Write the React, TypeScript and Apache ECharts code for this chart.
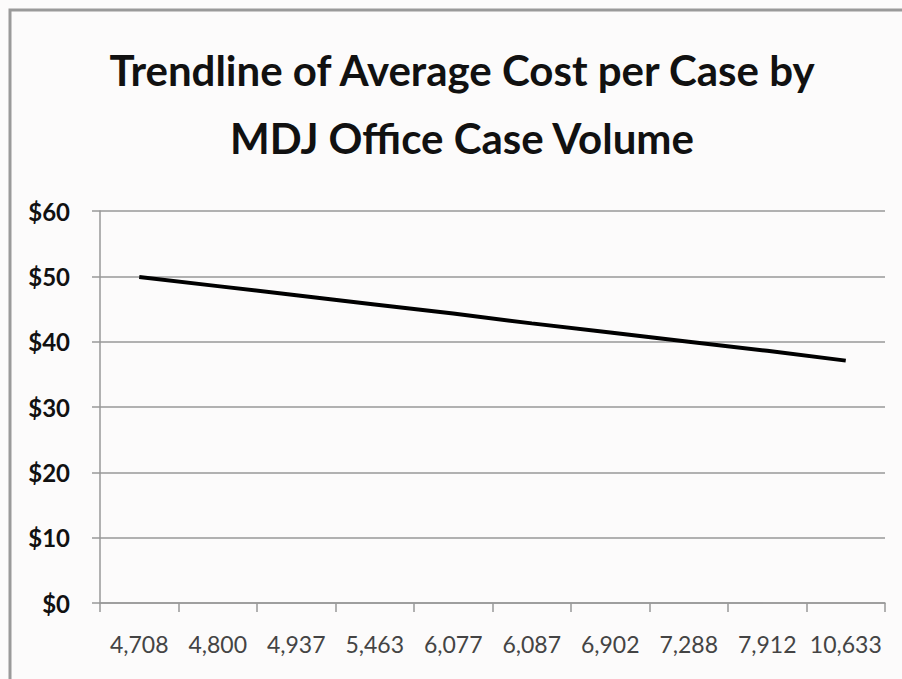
import React, { useEffect, useRef } from "react";
import * as echarts from "echarts";

const titleText = "Trendline of Average Cost per Case by\nMDJ Office Case Volume";
const caseVolumes = ["4,708", "4,800", "4,937", "5,463", "6,077", "6,087", "6,902", "7,288", "7,912", "10,633"];
const avgCost = [49.9, 48.5, 47.1, 45.7, 44.3, 42.8, 41.4, 40.0, 38.6, 37.1];
const yMin = 0;
const yMax = 60;
const yStep = 10;

export default function App() {
  const ref = useRef<HTMLDivElement>(null);
  useEffect(() => {
    if (!ref.current) return;
    const chart = echarts.init(ref.current, null, { renderer: "svg" });
    chart.setOption({
      animation: false,
      backgroundColor: "#fcfbfb",
      title: {
        text: titleText,
        left: 462,
        top: 36,
        padding: 0,
        textAlign: "center",
        textStyle: {
          fontFamily: "Lato",
          fontWeight: "bold",
          fontSize: 42,
          lineHeight: 68,
          color: "#111",
        },
      },
      graphic: [
        {
          type: "rect",
          shape: { x: 10, y: 10, width: 1000, height: 1000 },
          style: { fill: "none", stroke: "#9a9a9a", lineWidth: 3 },
          silent: true,
        },
      ],
      grid: { left: 100, right: 17, top: 211, bottom: 76, containLabel: false },
      xAxis: {
        type: "category",
        data: caseVolumes,
        boundaryGap: true,
        axisLine: { show: true, lineStyle: { color: "#999", width: 1.5 } },
        axisTick: { show: true, length: 9, lineStyle: { color: "#999", width: 1.5 } },
        axisLabel: {
          margin: 29,
          fontFamily: "Lato",
          fontSize: 23,
          color: "#444",
          interval: 0,
        },
        splitLine: { show: false },
      },
      yAxis: {
        type: "value",
        min: yMin,
        max: yMax,
        interval: yStep,
        axisLine: { show: true, lineStyle: { color: "#999", width: 1.5 } },
        axisTick: { show: true, length: 8, lineStyle: { color: "#999", width: 1.5 } },
        axisLabel: {
          margin: 30,
          fontFamily: "Lato",
          fontWeight: "bold",
          fontSize: 24,
          color: "#111",
          formatter: (v: number) => "$" + v,
        },
        splitLine: { show: true, lineStyle: { color: "#999", width: 1.5 } },
      },
      series: [
        {
          type: "line",
          data: avgCost,
          symbol: "none",
          lineStyle: { color: "#000", width: 4 },
        },
      ],
    });
    return () => chart.dispose();
  }, []);
  return (
    <div
      ref={ref}
      style={{ position: "absolute", left: 0, top: 0, width: 902, height: 679 }}
    />
  );
}
